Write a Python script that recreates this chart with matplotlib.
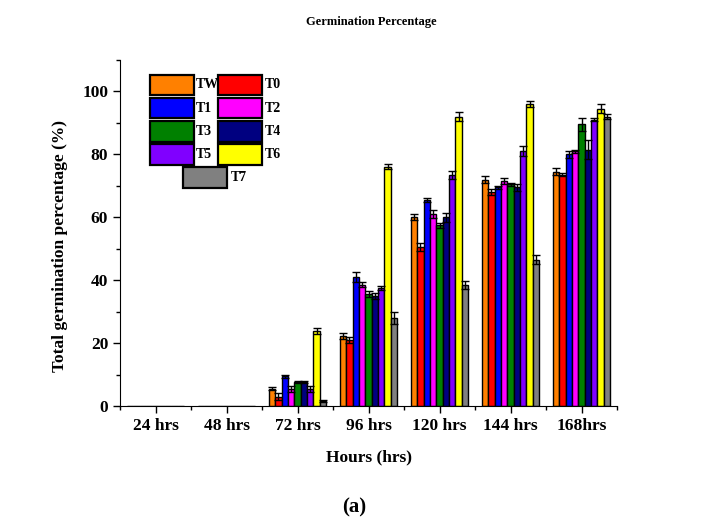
import matplotlib
matplotlib.use("Agg")
import matplotlib.pyplot as plt
import numpy as np
from matplotlib.patches import Rectangle
from matplotlib.ticker import MultipleLocator

categories = ["24 hrs", "48 hrs", "72 hrs", "96 hrs", "120 hrs", "144 hrs", "168hrs"]
series_names = ["TW", "T0", "T1", "T2", "T3", "T4", "T5", "T6", "T7"]
colors = ["#FF8000", "#FF0000", "#0000FF", "#FF00FF", "#008000", "#000080", "#8000FF", "#FFFF00", "#808080"]

TW = [0, 0, 5.5, 22.3, 60.0, 72.0, 74.5]
T0 = [0, 0, 3.0, 21.0, 50.5, 68.0, 73.5]
T1 = [0, 0, 9.5, 41.0, 65.5, 69.5, 80.0]
T2 = [0, 0, 5.5, 38.5, 61.0, 71.5, 81.0]
T3 = [0, 0, 7.7, 35.5, 57.5, 70.5, 89.5]
T4 = [0, 0, 7.7, 35.0, 60.0, 69.5, 81.5]
T5 = [0, 0, 5.5, 37.5, 73.5, 81.0, 91.0]
T6 = [0, 0, 23.8, 76.0, 92.0, 96.0, 94.5]
T7 = [0, 0, 1.5, 28.0, 38.5, 46.5, 92.0]

TW_err = [0, 0, 0.5, 1.0, 1.0, 1.0, 1.2]
T0_err = [0, 0, 1.0, 1.0, 1.2, 1.0, 0.5]
T1_err = [0, 0, 0.5, 1.5, 0.5, 0.5, 1.0]
T2_err = [0, 0, 1.0, 0.8, 1.2, 1.0, 0.5]
T3_err = [0, 0, 0.3, 1.0, 0.8, 0.5, 2.0]
T4_err = [0, 0, 0.3, 1.0, 1.5, 1.0, 3.0]
T5_err = [0, 0, 1.0, 0.5, 1.3, 1.5, 0.5]
T6_err = [0, 0, 1.0, 0.8, 1.5, 1.0, 1.5]
T7_err = [0, 0, 0.3, 1.8, 1.3, 1.5, 0.8]

values = [TW, T0, T1, T2, T3, T4, T5, T6, T7]
errors = [TW_err, T0_err, T1_err, T2_err, T3_err, T4_err, T5_err, T6_err, T7_err]

plt.rcParams['font.family'] = ['Liberation Serif', 'DejaVu Serif']
plt.rcParams['font.weight'] = 'bold'

W, H = 708, 518
fig = plt.figure(figsize=(W / 100, H / 100), dpi=100)
ax = fig.add_axes([0.1695, 0.2162, 0.702, 0.668])

x = np.arange(len(categories))
n = len(series_names)
w = 0.09
for i, (name, vals, errs, c) in enumerate(zip(series_names, values, errors, colors)):
    pos = x + (i - (n - 1) / 2) * w
    vals = np.array(vals)
    errs = np.array(errs)
    ax.bar(pos, vals, width=w, color=c, edgecolor='black', linewidth=1.0, zorder=2)
    mask = vals > 0
    ax.errorbar(pos[mask], vals[mask], yerr=errs[mask], fmt='none', ecolor='black',
                elinewidth=1.0, capsize=3, capthick=1.0, zorder=3)

ax.set_xlim(-0.5, len(categories) - 0.5)
ax.set_ylim(0, 110)
ax.set_xticks(x)
ax.set_xticklabels(categories, fontsize=12.5, fontweight='bold')
ax.set_xticks(np.arange(-0.5, len(categories), 1.0), minor=True)
ax.set_yticks([0, 20, 40, 60, 80, 100])
ax.yaxis.set_minor_locator(MultipleLocator(10))
ax.tick_params(axis='both', which='major', direction='out', length=5, width=1,
               labelsize=12.5, pad=3.5)
ax.tick_params(axis='both', which='minor', direction='out', length=3, width=1)
for lab in ax.get_yticklabels() + ax.get_xticklabels():
    lab.set_fontweight('bold')
ax.spines['top'].set_visible(False)
ax.spines['right'].set_visible(False)

fig.text(369 / W, 1 - 457 / H, "Hours (hrs)", ha='center', va='center',
         fontsize=12.5, fontweight='bold')
fig.text(60 / W, 1 - 246 / H, "Total germination percentage (%)", ha='center', va='center',
         rotation=90, fontsize=12.5, fontweight='bold')

# Legend drawn as patches (layout: 2 columns, T7 centered in last row)
box_w, box_h = 44, 20
row_tops = [75, 98, 121.5, 144.5, 167.5]
col_lefts = [150, 218.5]
label_dx = [1.5, 2.0]
slots = [(0, 0), (0, 1), (1, 0), (1, 1), (2, 0), (2, 1), (3, 0), (3, 1)]
for k in range(8):
    r, cidx = slots[k]
    left = col_lefts[cidx]
    top = row_tops[r]
    fig.patches.append(Rectangle((left / W, 1 - (top + box_h) / H), box_w / W, box_h / H,
                                 transform=fig.transFigure, facecolor=colors[k],
                                 edgecolor='black', linewidth=1.6))
    fig.text((left + box_w + label_dx[cidx]) / W, 1 - (top + box_h / 2) / H, series_names[k],
             ha='left', va='center', fontsize=10, fontweight='bold')
left7 = 183
fig.patches.append(Rectangle((left7 / W, 1 - (row_tops[4] + box_h) / H), box_w / W, box_h / H,
                             transform=fig.transFigure, facecolor=colors[8],
                             edgecolor='black', linewidth=1.6))
fig.text((left7 + box_w + 4) / W, 1 - (row_tops[4] + box_h / 2) / H, series_names[8],
         ha='left', va='center', fontsize=10, fontweight='bold')

fig.text(0.524, 0.957, "Germination Percentage", ha='center', va='center',
         fontsize=9, fontweight='bold')
fig.text(0.50, 0.02, "(a)", ha='center', va='center', fontsize=15, fontweight='bold')

fig.savefig("out.png", dpi=100)
